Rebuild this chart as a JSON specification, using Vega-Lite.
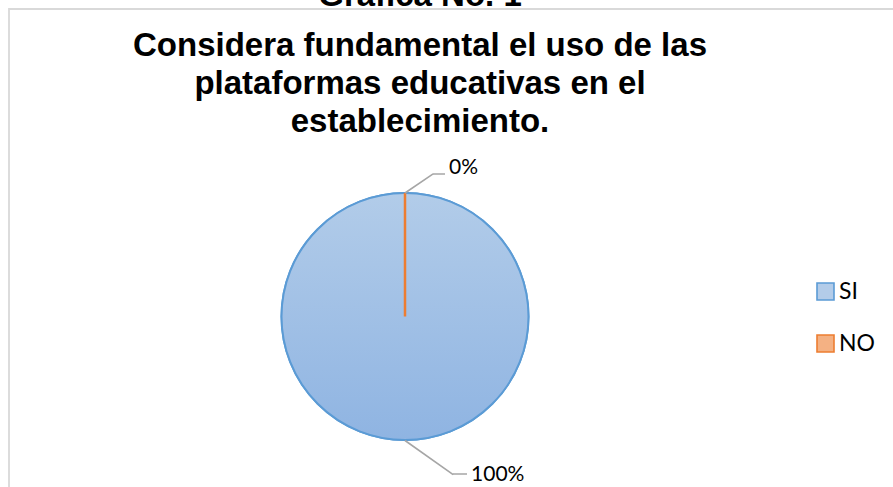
{
  "$schema": "https://vega.github.io/schema/vega-lite/v6.json",
  "autosize": {"type": "none"},
  "padding": {"left": 9, "top": 9, "right": -2, "bottom": -2},
  "width": 886,
  "height": 480,
  "background": "white",
  "view": {"stroke": "#d9d9d9", "strokeWidth": 1.8, "cornerRadius": 0},
  "config": {
    "view": {"stroke": "#d9d9d9", "strokeWidth": 1.8, "cornerRadius": 0},
    "font": "Liberation Sans"
  },
  "title": {
    "text": "Gráfica No. 1\u00a0\u00a0\u00a0",
    "subtitle": ["Considera fundamental el uso de las", "plataformas educativas en el", "establecimiento."],
    "anchor": "middle",
    "frame": "group",
    "dx": -32,
    "offset": -130,
    "font": "Liberation Sans",
    "fontSize": 33,
    "fontWeight": "bold",
    "color": "#000000",
    "subtitleFont": "Liberation Sans",
    "subtitleFontSize": 33,
    "subtitleFontWeight": "bold",
    "subtitleColor": "#000000",
    "subtitleLineHeight": 38,
    "subtitlePadding": 17
  },
  "data": {
    "values": [
      {"respuesta": "SI", "porcentaje": 1},
      {"respuesta": "NO", "porcentaje": 0}
    ]
  },
  "layer": [
    {
      "mark": {"type": "arc", "outerRadius": 123.5, "strokeWidth": 2, "x": {"expr": "width/2 - 47"}, "y": {"expr": "height/2 + 67.5"}},
      "encoding": {
        "theta": {"field": "porcentaje", "type": "quantitative", "stack": true},
        "order": {"field": "respuesta", "sort": "descending"},
        "color": {
          "field": "respuesta", "type": "nominal",
          "scale": {"domain": ["SI", "NO"], "range": ["#b3cce9", "#f4b183"]},
          "legend": {
            "title": null,
            "orient": "none",
            "legendX": 805,
            "legendY": 271,
            "padding": 0,
            "symbolType": "square",
            "symbolSize": 289,
            "symbolStrokeWidth": 1.6,
            "labelFont": "Lato",
            "labelFontSize": 23,
            "labelColor": "#000000",
            "labelOffset": 2,
            "rowPadding": 27
          }
        },
        "stroke": {
          "field": "respuesta", "type": "nominal",
          "scale": {"domain": ["SI", "NO"], "range": ["#5b9bd5", "#ed7d31"]},
          "legend": {
            "title": null,
            "orient": "none",
            "legendX": 805,
            "legendY": 271,
            "padding": 0,
            "symbolType": "square",
            "symbolSize": 289,
            "symbolStrokeWidth": 1.6,
            "labelFont": "Lato",
            "labelFontSize": 23,
            "labelColor": "#000000",
            "labelOffset": 2,
            "rowPadding": 27
          }
        }
      }
    },
    {
      "transform": [{"filter": "datum.respuesta === 'SI'"}],
      "mark": {
        "type": "arc", "outerRadius": 123.5, "strokeWidth": 2, "stroke": "#5b9bd5",
        "x": {"expr": "width/2 - 47"}, "y": {"expr": "height/2 + 67.5"},
        "fill": {"gradient": "linear", "x1": 0, "y1": 0, "x2": 0, "y2": 1,
          "stops": [{"offset": 0, "color": "#b2cce9"}, {"offset": 1, "color": "#8fb4e2"}]}
      },
      "encoding": {
        "theta": {"field": "porcentaje", "type": "quantitative", "stack": true}
      }
    },
    {
      "transform": [{"filter": "datum.respuesta === 'NO'"}],
      "mark": {
        "type": "arc", "outerRadius": 123.5, "strokeWidth": 2.5, "stroke": "#ed7d31", "fill": null,
        "x": {"expr": "width/2 - 47"}, "y": {"expr": "height/2 + 67.5"}
      },
      "encoding": {
        "theta": {"field": "porcentaje", "type": "quantitative", "stack": true}
      }
    },
    {
      "transform": [{"filter": "datum.respuesta === 'NO'"}],
      "mark": {
        "type": "arc", "theta": 0.974, "theta2": 0.974, "radius": 34, "radius2": 0,
        "stroke": "#a6a6a6", "strokeWidth": 1.6, "fill": null,
        "x": {"expr": "width/2 - 47"}, "y": {"expr": "height/2 + 67.5 - 123.5"}
      },
      "encoding": {}
    },
    {
      "transform": [{"filter": "datum.respuesta === 'NO'"}],
      "mark": {
        "type": "arc", "theta": 1.5708, "theta2": 1.5708, "radius": 12, "radius2": 0,
        "stroke": "#a6a6a6", "strokeWidth": 1.6, "fill": null,
        "x": {"expr": "width/2 - 47 + 28"}, "y": {"expr": "height/2 + 67.5 - 142.5"}
      },
      "encoding": {}
    },
    {
      "transform": [{"filter": "datum.respuesta === 'SI'"}],
      "mark": {
        "type": "arc", "theta": 2.186, "theta2": 2.186, "radius": 59, "radius2": 0,
        "stroke": "#a6a6a6", "strokeWidth": 1.6, "fill": null,
        "x": {"expr": "width/2 - 47"}, "y": {"expr": "height/2 + 67.5 + 124"}
      },
      "encoding": {}
    },
    {
      "transform": [{"filter": "datum.respuesta === 'SI'"}],
      "mark": {
        "type": "arc", "theta": 1.5708, "theta2": 1.5708, "radius": 14, "radius2": 0,
        "stroke": "#a6a6a6", "strokeWidth": 1.6, "fill": null,
        "x": {"expr": "width/2 - 47 + 48"}, "y": {"expr": "height/2 + 67.5 + 157.5"}
      },
      "encoding": {}
    },
    {
      "transform": [{"filter": "datum.respuesta === 'NO'"}],
      "mark": {
        "type": "text", "radius": 155, "thetaOffset": 0.288, "align": "left", "baseline": "middle",
        "font": "Lato", "fontSize": 21, "color": "#000000",
        "x": {"expr": "width/2 - 47"}, "y": {"expr": "height/2 + 67.5"}
      },
      "encoding": {
        "theta": {"field": "porcentaje", "type": "quantitative", "stack": true},
        "text": {"field": "porcentaje", "type": "quantitative", "format": ".0%"}
      }
    },
    {
      "transform": [{"filter": "datum.respuesta === 'SI'"}],
      "mark": {
        "type": "text", "radius": 172, "thetaOffset": -0.394, "align": "left", "baseline": "middle",
        "font": "Lato", "fontSize": 21, "color": "#000000",
        "x": {"expr": "width/2 - 47"}, "y": {"expr": "height/2 + 67.5"}
      },
      "encoding": {
        "theta": {"field": "porcentaje", "type": "quantitative", "stack": true},
        "text": {"field": "porcentaje", "type": "quantitative", "format": ".0%"}
      }
    }
  ]
}
